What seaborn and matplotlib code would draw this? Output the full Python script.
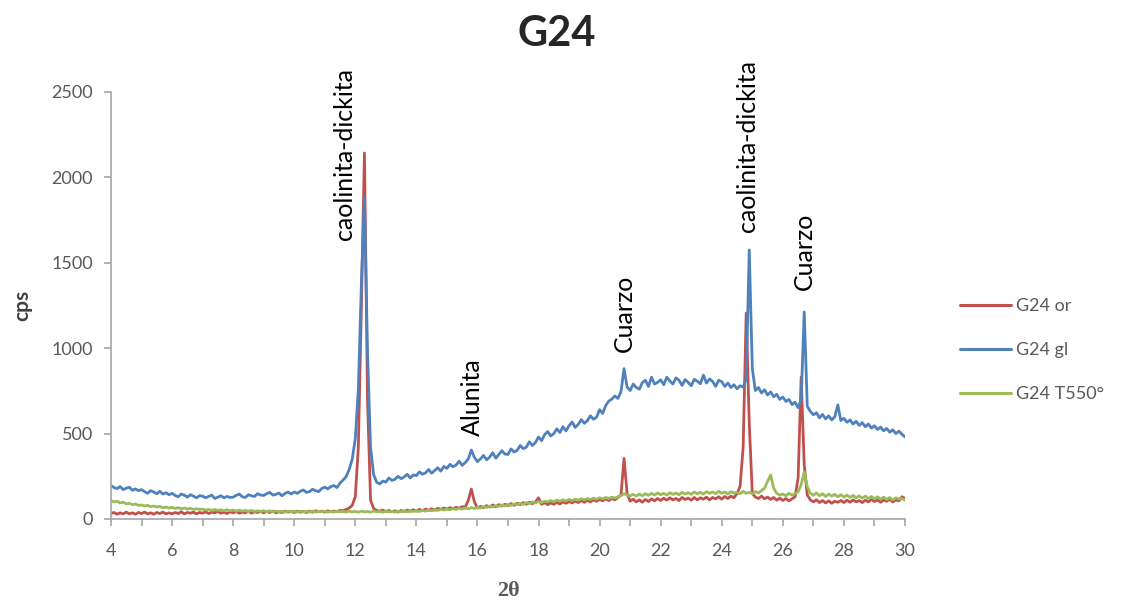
import numpy as np
import pandas as pd
import seaborn as sns
import matplotlib.pyplot as plt
from matplotlib.ticker import MultipleLocator

sns.set_theme(style="white")
plt.rcParams['font.family'] = ['Lato', 'DejaVu Sans']

# 2-theta grid, 0.1 deg step from 4 to 30
two_theta = np.round(np.arange(4.0, 30.01, 0.1), 1)

g24_or = [
    32, 38, 28, 36, 30, 40, 30, 36, 28, 38,
    32, 40, 30, 36, 28, 38, 32, 40, 30, 36,
    30, 38, 32, 42, 30, 38, 34, 40, 30, 38,
    34, 42, 32, 40, 36, 44, 34, 40, 32, 42,
    36, 44, 34, 40, 36, 46, 34, 42, 38, 44,
    36, 44, 38, 46, 36, 42, 38, 46, 40, 44,
    38, 46, 40, 44, 38, 46, 40, 48, 42, 46,
    40, 48, 42, 46, 44, 50, 48, 56, 64, 80,
    130, 420, 1250, 2143, 700, 110, 62, 50, 46, 52,
    44, 50, 42, 48, 40, 50, 44, 52, 46, 54,
    46, 56, 48, 58, 50, 60, 52, 62, 56, 64,
    58, 66, 60, 68, 64, 72, 70, 110, 175, 100,
    64, 74, 66, 78, 70, 82, 72, 84, 76, 86,
    78, 90, 80, 92, 84, 96, 86, 98, 90, 100,
    124, 86, 96, 84, 94, 86, 98, 88, 100, 92,
    102, 94, 106, 96, 108, 98, 110, 100, 112, 104,
    114, 106, 118, 108, 120, 112, 126, 140, 355, 150,
    104, 116, 100, 112, 98, 114, 102, 118, 106, 120,
    108, 122, 110, 124, 112, 120, 108, 126, 114, 122,
    110, 126, 112, 124, 116, 128, 112, 126, 118, 130,
    116, 132, 120, 134, 124, 150, 190, 420, 1206, 560,
    150, 128, 120, 134, 118, 128, 114, 126, 110, 122,
    108, 120, 106, 118, 130, 240, 831, 320, 140, 112,
    100, 112, 96, 108, 94, 106, 92, 104, 98, 108,
    96, 110, 98, 112, 100, 108, 96, 110, 100, 114,
    102, 112, 98, 110, 104, 116, 100, 112, 106, 130,
    120,
]

g24_gl = [
    195, 184, 178, 190, 172, 180, 186, 168, 176, 166,
    172, 160, 150, 166, 158, 148, 162, 146, 154, 142,
    150, 138, 130, 146, 140, 128, 142, 134, 124, 136,
    134, 124, 132, 140, 120, 128, 136, 124, 132, 126,
    128, 138, 146, 130, 126, 142, 136, 132, 148, 140,
    138, 148, 156, 140, 144, 152, 136, 150, 158, 146,
    158, 150, 162, 170, 156, 160, 174, 166, 160, 178,
    186, 176, 190, 196, 184, 210, 228, 248, 290, 350,
    470, 760, 1380, 1885, 980, 420, 260, 215, 205, 222,
    216, 240, 226, 232, 250, 236, 246, 262, 240, 258,
    254, 276, 262, 270, 290, 268, 284, 300, 280, 308,
    296, 320, 306, 316, 338, 314, 330, 352, 404, 360,
    336, 352, 372, 346, 362, 388, 356, 378, 400, 380,
    378, 410, 392, 402, 430, 412, 420, 452, 430, 448,
    480, 458, 494, 512, 486, 500, 528, 506, 540, 516,
    546, 568, 536, 554, 582, 560, 576, 604, 584, 596,
    640, 618, 664, 690, 702, 720, 706, 745, 880, 772,
    752, 790, 770, 760, 798, 812, 776, 830, 790, 800,
    815, 786, 830, 808, 790, 826, 812, 782, 816, 800,
    780, 818, 806, 792, 842, 796, 820, 805, 776, 812,
    804, 776, 796, 770, 786, 762, 780, 772, 820, 1575,
    880, 752, 770, 738, 756, 726, 744, 716, 730, 700,
    714, 688, 700, 670, 684, 652, 700, 1212, 660, 630,
    610, 622, 592, 612, 586, 604, 580, 598, 668, 576,
    590, 566, 580, 556, 572, 548, 564, 540, 556, 532,
    546, 524, 538, 516, 530, 508, 522, 500, 514, 496,
    480,
]

g24_t550 = [
    108, 100, 104, 94, 98, 88, 92, 84, 88, 80,
    82, 76, 80, 72, 76, 70, 74, 66, 70, 64,
    68, 62, 66, 60, 64, 58, 62, 56, 60, 56,
    58, 52, 56, 50, 56, 50, 54, 48, 54, 48,
    52, 46, 52, 46, 50, 44, 50, 44, 48, 44,
    48, 42, 48, 42, 46, 42, 46, 40, 46, 42,
    46, 40, 46, 42, 44, 40, 46, 40, 44, 42,
    46, 40, 44, 40, 46, 42, 44, 40, 46, 42,
    44, 40, 46, 42, 44, 40, 46, 42, 44, 40,
    46, 42, 44, 40, 46, 42, 48, 42, 46, 44,
    48, 44, 50, 46, 52, 48, 54, 50, 56, 52,
    58, 54, 60, 56, 62, 58, 64, 60, 66, 62,
    68, 64, 72, 68, 76, 70, 78, 74, 82, 76,
    84, 80, 88, 84, 92, 86, 96, 90, 100, 94,
    102, 96, 104, 100, 108, 102, 110, 104, 112, 106,
    114, 108, 116, 110, 118, 112, 120, 114, 122, 116,
    124, 118, 126, 120, 128, 122, 130, 136, 148, 140,
    136, 144, 134, 146, 136, 148, 138, 150, 140, 152,
    142, 150, 140, 154, 144, 152, 142, 156, 146, 154,
    144, 158, 148, 156, 146, 160, 150, 158, 148, 162,
    150, 158, 146, 160, 152, 156, 148, 162, 150, 156,
    148, 160, 152, 166, 180, 220, 258, 180, 150, 140,
    146, 136, 150, 140, 148, 160, 200, 275, 190, 150,
    140, 152, 136, 148, 132, 146, 134, 144, 130, 142,
    128, 140, 126, 138, 124, 136, 122, 134, 120, 132,
    118, 130, 116, 128, 114, 126, 112, 124, 116, 120,
    110,
]

series_names = ["G24 or", "G24 gl", "G24 T550°"]
series_colors = ["#C0504D", "#4F81BD", "#9BBB59"]

# peak labels: (text, 2theta, cps at bottom of text)
peak_labels = ["caolinita-dickita", "Alunita", "Cuarzo", "caolinita-dickita", "Cuarzo"]
peak_pos = [11.66, 15.82, 20.8, 24.83, 26.72]
peak_height = [1633, 486, 978, 1680, 1341]

df = pd.concat([
    pd.DataFrame({"2theta": two_theta, "cps": vals, "serie": name})
    for name, vals in zip(series_names, [g24_or, g24_gl, g24_t550])
], ignore_index=True)

fig = plt.figure(figsize=(11.22, 6.02), dpi=100)
ax = fig.add_axes([0.0989, 0.1379, 0.7077, 0.7093])

sns.lineplot(data=df, x="2theta", y="cps", hue="serie", hue_order=series_names,
             palette=series_colors, estimator=None, sort=False, linewidth=2.0, ax=ax)

ax.set_xlim(4, 30)
ax.set_ylim(0, 2500)
ax.xaxis.set_major_locator(MultipleLocator(2))
ax.xaxis.set_minor_locator(MultipleLocator(1))
ax.yaxis.set_major_locator(MultipleLocator(500))

axis_gray = "#A6A6A6"
for s in ["top", "right"]:
    ax.spines[s].set_visible(False)
for s in ["left", "bottom"]:
    ax.spines[s].set_color(axis_gray)
    ax.spines[s].set_linewidth(1.2)
ax.tick_params(axis="both", which="both", direction="out", length=5, width=1.2,
               color=axis_gray, labelcolor="#595959", labelsize=13)
ax.tick_params(axis="x", which="both", bottom=True, pad=12)
ax.tick_params(axis="y", left=True, pad=8)

ax.set_xlabel("2θ", fontsize=16, fontweight="bold", color="#595959",
              family=["Liberation Serif", "DejaVu Serif"], labelpad=16)
ax.set_ylabel("cps", fontsize=15, fontweight="bold", color="#404040", labelpad=14)
fig.suptitle("G24", x=0.496, y=0.975, fontsize=30, fontweight="bold")

for txt, px, py in zip(peak_labels, peak_pos, peak_height):
    ax.text(px, py, txt, rotation=90, ha="center", va="bottom", fontsize=18, color="black")

sns.move_legend(ax, "center left", bbox_to_anchor=(1.049, 0.396), frameon=False, title=None,
                fontsize=13, labelspacing=1.55, handlelength=2.8, handletextpad=0.3)
for t in ax.get_legend().get_texts():
    t.set_color("#595959")
for h in ax.get_legend().get_lines():
    h.set_linewidth(2.2)

fig.savefig("out.png", dpi=100)
